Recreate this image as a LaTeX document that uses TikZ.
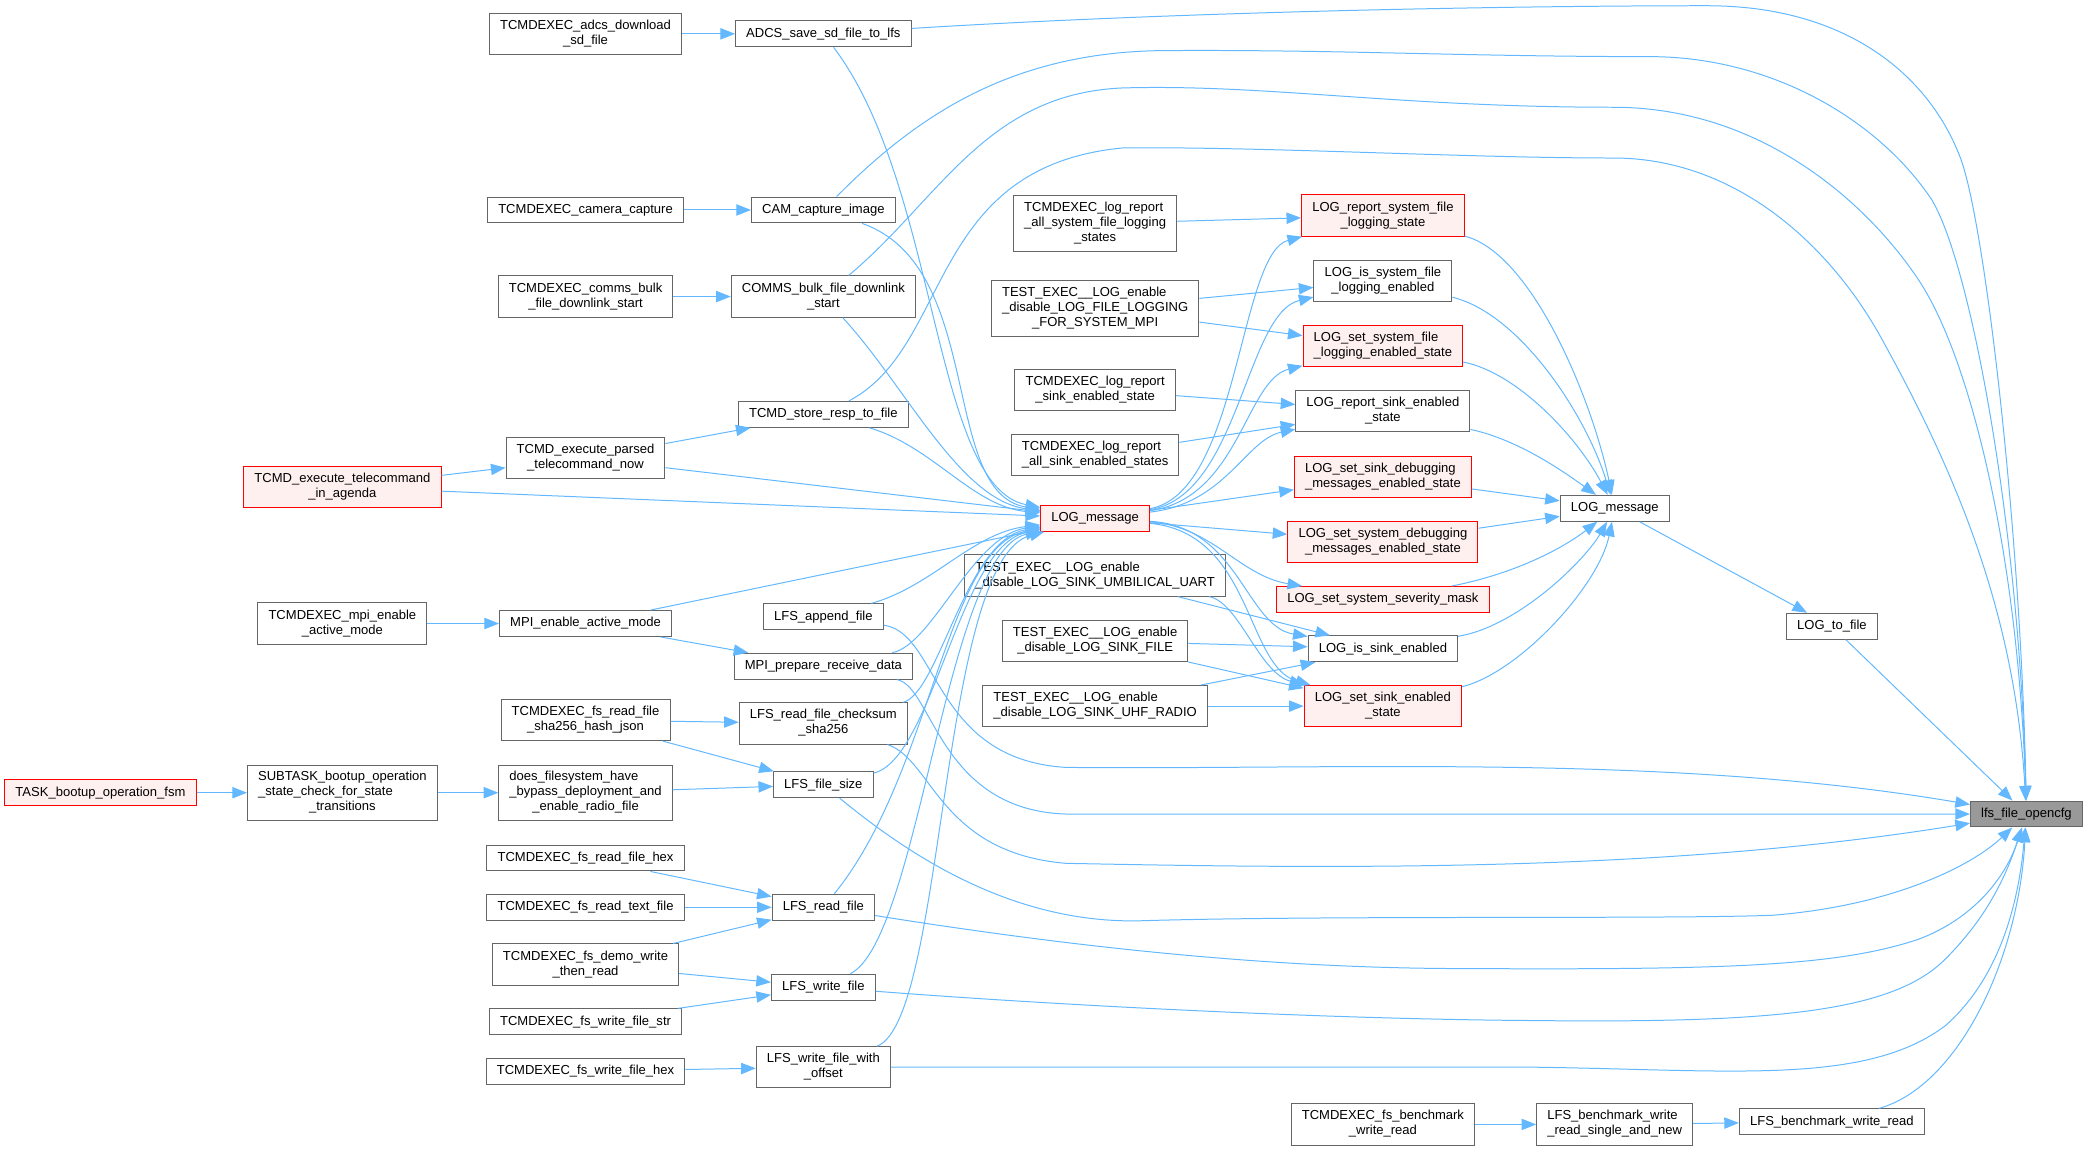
\documentclass[tikz,border=0pt]{standalone}
\usepackage{fontspec}
\setmainfont{Liberation Sans}
\usetikzlibrary{arrows.meta}
\definecolor{edgeblue}{HTML}{63B8FF}
\definecolor{boxgray}{HTML}{666666}
\definecolor{redfill}{HTML}{FFF0F0}
\definecolor{focusgray}{HTML}{999999}
\newcommand{\fnl}[1]{\begin{tabular}{@{}l@{}}#1\end{tabular}}
\newcommand{\lastc}[1]{\multicolumn{1}{@{}c@{}}{#1}}
\tikzset{
  fn/.style={rectangle, draw=boxgray, fill=white, line width=0.75pt, inner xsep=8pt, inner ysep=0pt, minimum height=19.5pt, font=\fontsize{9.8}{11.3}\selectfont},
  fnred/.style={fn, draw=red, fill=redfill},
  fnfocus/.style={fn, fill=focusgray},
  two/.style={minimum height=31pt},
  three/.style={minimum height=41.5pt},
  call/.style={draw=edgeblue, line width=0.75pt},
}
\begin{document}
\begin{tikzpicture}[x=0.03522cm, y=-0.03522cm, >={Triangle[length=11pt, width=8.5pt]}, ->]
    \useasboundingbox (0,0) rectangle (1568,863.2);

    % Define functions
    \node[fnred] (fsm) at (75.4,595) {TASK\_bootup\_operation\_fsm};
    \node[fnred, two] (agenda) at (257,365.6) {\fnl{TCMD\_execute\_telecommand\\\lastc{\_in\_agenda}}};
    \node[fn, two] (mpien) at (257,468) {\fnl{TCMDEXEC\_mpi\_enable\\\lastc{\_active\_mode}}};
    \node[fn, three] (subtask) at (257,595) {\fnl{SUBTASK\_bootup\_operation\\\_state\_check\_for\_state\\\lastc{\_transitions}}};

    \node[fn, two] (adcsdl) at (439.5,25.4) {\fnl{TCMDEXEC\_adcs\_download\\\lastc{\_sd\_file}}};
    \node[fn] (camcap) at (439.5,157.6) {TCMDEXEC\_camera\_capture};
    \node[fn, two] (commsdl) at (439.5,222.6) {\fnl{TCMDEXEC\_comms\_bulk\\\lastc{\_file\_downlink\_start}}};
    \node[fn, two] (parsed) at (439.5,344) {\fnl{TCMD\_execute\_parsed\\\lastc{\_telecommand\_now}}};
    \node[fn] (mpiact) at (439.5,468) {MPI\_enable\_active\_mode};
    \node[fn, two] (shajson) at (439.5,540.5) {\fnl{TCMDEXEC\_fs\_read\_file\\\lastc{\_sha256\_hash\_json}}};
    \node[fn, three] (bypass) at (439.5,595) {\fnl{does\_filesystem\_have\\\_bypass\_deployment\_and\\\lastc{\_enable\_radio\_file}}};
    \node[fn] (rdhex) at (439.5,644) {TCMDEXEC\_fs\_read\_file\_hex};
    \node[fn] (rdtext) at (439.5,681) {TCMDEXEC\_fs\_read\_text\_file};
    \node[fn, two] (demo) at (439.5,724) {\fnl{TCMDEXEC\_fs\_demo\_write\\\lastc{\_then\_read}}};
    \node[fn] (wrstr) at (439.5,767) {TCMDEXEC\_fs\_write\_file\_str};
    \node[fn] (wrhex) at (439.5,804) {TCMDEXEC\_fs\_write\_file\_hex};

    \node[fn] (adcs) at (618,25.4) {ADCS\_save\_sd\_file\_to\_lfs};
    \node[fn] (cam) at (618,157.6) {CAM\_capture\_image};
    \node[fn, two] (comms) at (618,222.6) {\fnl{COMMS\_bulk\_file\_downlink\\\lastc{\_start}}};
    \node[fn] (store) at (618,311) {TCMD\_store\_resp\_to\_file};
    \node[fn] (append) at (618,463) {LFS\_append\_file};
    \node[fn] (prep) at (618,500) {MPI\_prepare\_receive\_data};
    \node[fn, two] (cksum) at (618,543) {\fnl{LFS\_read\_file\_checksum\\\lastc{\_sha256}}};
    \node[fn] (fsize) at (618,589) {LFS\_file\_size};
    \node[fn] (rdfile) at (618,681) {LFS\_read\_file};
    \node[fn] (wrfile) at (618,741) {LFS\_write\_file};
    \node[fn, two] (wroff) at (618,801) {\fnl{LFS\_write\_file\_with\\\lastc{\_offset}}};

    \node[fn, three] (rptall) at (822,167.8) {\fnl{TCMDEXEC\_log\_report\\\_all\_system\_file\_logging\\\lastc{\_states}}};
    \node[fn, three] (mpitest) at (822,231.5) {\fnl{TEST\_EXEC\_\_LOG\_enable\\\_disable\_LOG\_FILE\_LOGGING\\\lastc{\_FOR\_SYSTEM\_MPI}}};
    \node[fn, two] (rptsink) at (822,292.5) {\fnl{TCMDEXEC\_log\_report\\\lastc{\_sink\_enabled\_state}}};
    \node[fn, two] (rptallsink) at (822,341.8) {\fnl{TCMDEXEC\_log\_report\\\lastc{\_all\_sink\_enabled\_states}}};
    \node[fnred] (logred) at (822,389) {LOG\_message};
    \node[fn, two] (uart) at (822,432) {\fnl{TEST\_EXEC\_\_LOG\_enable\\\lastc{\_disable\_LOG\_SINK\_UMBILICAL\_UART}}};
    \node[fn, two] (sinkfile) at (822,481) {\fnl{TEST\_EXEC\_\_LOG\_enable\\\lastc{\_disable\_LOG\_SINK\_FILE}}};
    \node[fn, two] (uhf) at (822,530) {\fnl{TEST\_EXEC\_\_LOG\_enable\\\lastc{\_disable\_LOG\_SINK\_UHF\_RADIO}}};

    \node[fnred, two] (repsys) at (1038,161.8) {\fnl{LOG\_report\_system\_file\\\lastc{\_logging\_state}}};
    \node[fn, two] (issys) at (1038,210.7) {\fnl{LOG\_is\_system\_file\\\lastc{\_logging\_enabled}}};
    \node[fnred, two] (setsys) at (1038,259.8) {\fnl{LOG\_set\_system\_file\\\lastc{\_logging\_enabled\_state}}};
    \node[fn, two] (repsink) at (1038,308.4) {\fnl{LOG\_report\_sink\_enabled\\\lastc{\_state}}};
    \node[fnred, two] (sinkdbg) at (1038,358) {\fnl{LOG\_set\_sink\_debugging\\\lastc{\_messages\_enabled\_state}}};
    \node[fnred, two] (sysdbg) at (1038,407) {\fnl{LOG\_set\_system\_debugging\\\lastc{\_messages\_enabled\_state}}};
    \node[fnred] (sevmask) at (1038,450) {LOG\_set\_system\_severity\_mask};
    \node[fn] (issink) at (1038,487) {LOG\_is\_sink\_enabled};
    \node[fnred, two] (setsink) at (1038,530) {\fnl{LOG\_set\_sink\_enabled\\\lastc{\_state}}};
    \node[fn, two] (benchtc) at (1038,844) {\fnl{TCMDEXEC\_fs\_benchmark\\\lastc{\_write\_read}}};

    \node[fn] (logmsg) at (1212,381.5) {LOG\_message};
    \node[fn, two] (benchsn) at (1212,844) {\fnl{LFS\_benchmark\_write\\\lastc{\_read\_single\_and\_new}}};
    \node[fn] (logfile) at (1375,470) {LOG\_to\_file};
    \node[fn] (bench) at (1375,842) {LFS\_benchmark\_write\_read};
    \node[fnfocus] (opencfg) at (1521,611) {lfs\_file\_opencfg};

    % Calls on the left
    \draw[call] (fsm) -- (subtask);
    \draw[call] (subtask) -- (bypass);
    \draw[call] (bypass) -- (fsize);
    \draw[call] (agenda) -- (parsed);
    \draw[call] (agenda) -- (logred);
    \draw[call] (mpien) -- (mpiact);
    \draw[call] (adcsdl) -- (adcs);
    \draw[call] (camcap) -- (cam);
    \draw[call] (commsdl) -- (comms);
    \draw[call] (parsed) -- (store);
    \draw[call] (parsed) -- (logred);
    \draw[call] (mpiact) -- (logred);
    \draw[call] (mpiact) -- (prep);
    \draw[call] (shajson) -- (cksum);
    \draw[call] (shajson) -- (fsize);
    \draw[call] (rdhex) -- (rdfile);
    \draw[call] (rdtext) -- (rdfile);
    \draw[call] (demo) -- (rdfile);
    \draw[call] (demo) -- (wrfile);
    \draw[call] (wrstr) -- (wrfile);
    \draw[call] (wrhex) -- (wroff);

    % Into the red LOG_message
    \draw[call] (adcs) .. controls (705,140) and (700,365) .. (logred);
    \draw[call] (cam) .. controls (740,200) and (705,370) .. (logred);
    \draw[call] (comms) .. controls (680,290) and (720,375) .. (logred);
    \draw[call] (store) .. controls (700,335) and (730,380) .. (logred);
    \draw[call] (append) .. controls (700,440) and (730,400) .. (logred);
    \draw[call] (prep) .. controls (700,484) and (730,402) .. (logred);
    \draw[call] (cksum) .. controls (705,520) and (725,405) .. (logred);
    \draw[call] (fsize) .. controls (700,570) and (720,410) .. (logred);
    \draw[call] (rdfile) .. controls (700,580) and (710,410) .. (logred);
    \draw[call] (wrfile) .. controls (690,705) and (710,415) .. (logred);
    \draw[call] (wroff) .. controls (710,765) and (705,420) .. (logred);

    % Into lfs_file_opencfg
    \draw[call] (adcs) .. controls (900,8) and (1150,4.3) .. (1281,4.3) .. controls (1390,4.3) and (1450,60) .. (1472,120) .. controls (1490,170) and (1517,400) .. (opencfg);
    \draw[call] (cam) .. controls (690,85) and (760,40) .. (870,38) .. controls (1000,37) and (1100,42.5) .. (1238,42.5) .. controls (1330,42.5) and (1410,90) .. (1450,150) .. controls (1480,200) and (1516,400) .. (opencfg);
    \draw[call] (comms) .. controls (705,150) and (740,70) .. (843,66) .. controls (950,63) and (1050,80.5) .. (1211,80.5) .. controls (1320,80.5) and (1400,150) .. (1440,210) .. controls (1480,270) and (1515,420) .. (opencfg);
    \draw[call] (store) .. controls (715,260) and (695,125) .. (843,111) .. controls (950,110) and (1100,118.6) .. (1211,118.6) .. controls (1300,118.6) and (1370,180) .. (1410,250) .. controls (1460,340) and (1512,450) .. (opencfg);
    \draw[call] (append) .. controls (705,475) and (700,570) .. (800,576) .. controls (1000,578) and (1250,565) .. (opencfg);
    \draw[call] (prep) .. controls (700,515) and (705,608) .. (800,611) -- (opencfg);
    \draw[call] (cksum) .. controls (700,570) and (705,640) .. (800,648) .. controls (1000,652) and (1250,655) .. (opencfg);
    \draw[call] (fsize) .. controls (680,640) and (760,695) .. (860,691) .. controls (1000,687) and (1250,690) .. (1330,687) .. controls (1420,680) and (1480,650) .. (opencfg);
    \draw[call] (rdfile) .. controls (800,710) and (950,727) .. (1100,727) .. controls (1300,728) and (1380,725) .. (1440,705) .. controls (1480,690) and (1505,660) .. (opencfg);
    \draw[call] (wrfile) .. controls (800,755) and (1000,765) .. (1150,766) .. controls (1330,768) and (1420,760) .. (1460,720) .. controls (1490,690) and (1505,660) .. (opencfg);
    \draw[call] (wroff) -- (1150,801) .. controls (1300,803) and (1400,815) .. (1460,770) .. controls (1500,735) and (1515,680) .. (opencfg);
    \draw[call] (bench) .. controls (1470,815) and (1515,720) .. (opencfg);
    \draw[call] (logfile) -- (opencfg);

    % Log setters and reporters
    \draw[call] (rptall) -- (repsys);
    \draw[call] (mpitest) -- (issys);
    \draw[call] (mpitest) -- (setsys);
    \draw[call] (rptsink) -- (repsink);
    \draw[call] (rptallsink) -- (repsink);
    \draw[call] (uart) -- (issink);
    \draw[call] (uart) .. controls (930,452) and (945,505) .. (setsink);
    \draw[call] (sinkfile) -- (issink);
    \draw[call] (sinkfile) -- (setsink);
    \draw[call] (uhf) -- (issink);
    \draw[call] (uhf) -- (setsink);

    \draw[call] (logred) .. controls (930,370) and (930,190) .. (repsys);
    \draw[call] (logred) .. controls (930,372) and (935,235) .. (issys);
    \draw[call] (logred) .. controls (930,374) and (935,285) .. (setsys);
    \draw[call] (logred) .. controls (920,378) and (935,330) .. (repsink);
    \draw[call] (logred) -- (sinkdbg);
    \draw[call] (logred) -- (sysdbg);
    \draw[call] (logred) .. controls (910,395) and (930,432) .. (sevmask);
    \draw[call] (logred) .. controls (930,395) and (935,470) .. (issink);
    \draw[call] (logred) .. controls (940,400) and (935,500) .. (setsink);

    \draw[call] (repsys) .. controls (1150,190) and (1195,300) .. (logmsg);
    \draw[call] (issys) .. controls (1140,235) and (1190,310) .. (logmsg);
    \draw[call] (setsys) .. controls (1140,280) and (1185,330) .. (logmsg);
    \draw[call] (repsink) .. controls (1140,330) and (1175,355) .. (logmsg);
    \draw[call] (sinkdbg) -- (logmsg);
    \draw[call] (sysdbg) -- (logmsg);
    \draw[call] (sevmask) .. controls (1140,430) and (1175,410) .. (logmsg);
    \draw[call] (issink) .. controls (1140,470) and (1190,420) .. (logmsg);
    \draw[call] (setsink) .. controls (1140,505) and (1200,440) .. (logmsg);

    % Down to the file
    \draw[call] (logmsg) -- (logfile);
    \draw[call] (benchtc) -- (benchsn);
    \draw[call] (benchsn) -- (bench);

\end{tikzpicture}
\end{document}
